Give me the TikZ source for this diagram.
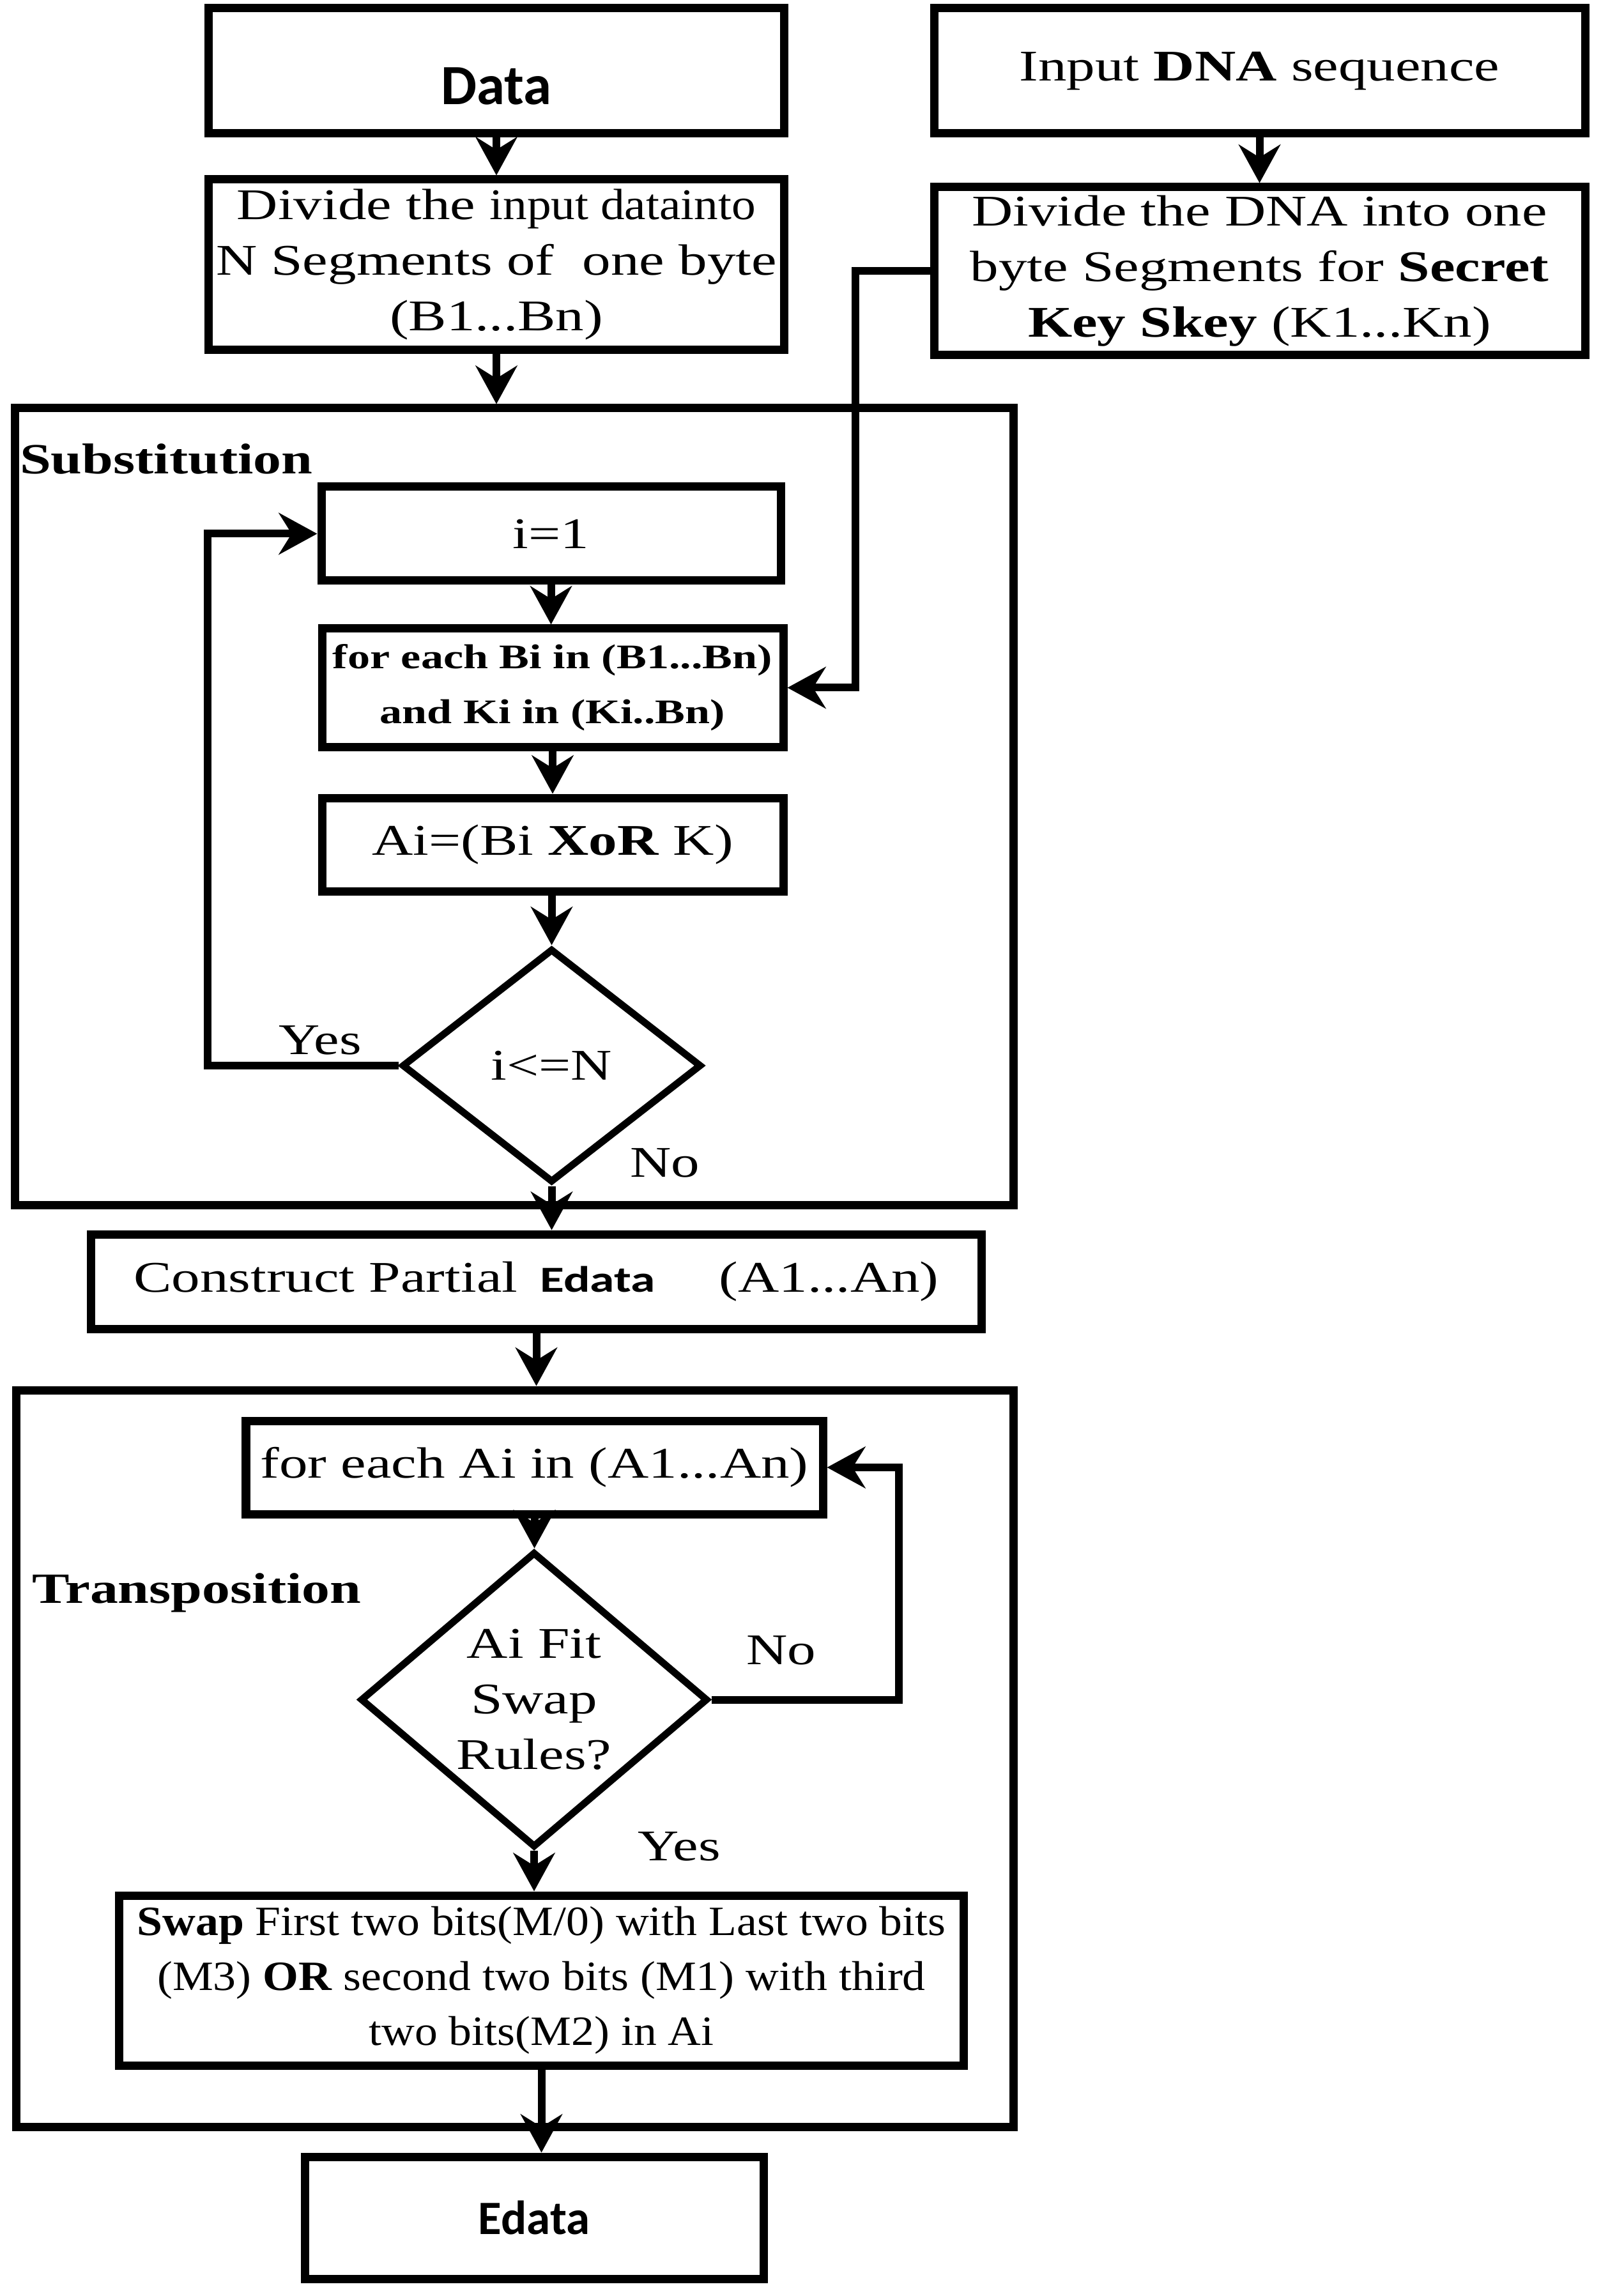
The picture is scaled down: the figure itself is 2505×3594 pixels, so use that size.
\documentclass[tikz,border=0pt]{standalone}
\usepackage{fontspec}
\usepackage{graphicx}
\setmainfont{Liberation Serif}[FakeStretch=1.3]
\newfontfamily\narrowserif{Liberation Serif}[FakeStretch=1.1]
\newfontfamily\calib{Carlito}
\usetikzlibrary{shapes.geometric,arrows.meta}
\newcommand\fsn{\fontsize{13.7pt}{17.4pt}\selectfont}
\tikzset{
  box/.style={draw, rectangle, line width=2.6pt, inner sep=0pt, align=center, font=\fsn},
  dec/.style={draw, diamond, line width=2.2pt, inner sep=0pt, align=center, font=\fsn},
  frm/.style={draw, rectangle, line width=2.6pt, inner sep=0pt},
  arr/.style={line width=2.4pt, -{Stealth[length=12pt,width=13pt,inset=4pt]}},
  lbl/.style={inner sep=0pt, font=\fsn},
  seclbl/.style={inner sep=0pt, anchor=west, font=\bfseries\fontsize{13.5pt}{16pt}\selectfont}
}
\begin{document}
\begin{tikzpicture}[x=0.2pt,y=-0.2pt]
\useasboundingbox (0,0) rectangle (2505,3594);
\fill[white] (0,0) rectangle (2505,3594);

% frames
\node[frm, minimum width=312.4pt, minimum height=249.4pt] (subst) at (805,1262.5) {};
\node[frm, minimum width=312pt, minimum height=230.6pt] (trans) at (806,2752.5) {};
\node[seclbl] (lsub) at (30,719) {Substitution};
\node[seclbl] (ltrans) at (49,2493) {Transposition};

% top boxes
\node[box, minimum width=180pt, minimum height=39.2pt, text height=21pt, text depth=0pt,
      font=\calib\bfseries\fontsize{17.8pt}{20pt}\selectfont] (data) at (777,111) {Data};
\node[box, minimum width=203.8pt, minimum height=39.2pt] (dna) at (1971.5,111) {Input \textbf{DNA} sequence};
\node[box, minimum width=180pt, minimum height=53.4pt] (div) at (777,414.5)
  {Divide the {\narrowserif input datainto}\\N Segments of\ \ one byte\\(B1...Bn)};
\node[box, minimum width=203.8pt, minimum height=52.6pt] (dna2) at (1971.5,424.5)
  {Divide the DNA into one\\byte Segments for \textbf{Secret}\\\textbf{Key Skey} (K1...Kn)};

% substitution
\node[box, minimum width=143.8pt, minimum height=29.4pt] (i1) at (862.5,835.5) {i=1};
\node[box, minimum width=144.4pt, minimum height=37pt,
      font=\bfseries\fontsize{10.8pt}{17.2pt}\selectfont] (forBi) at (865,1076.5)
  {for each Bi in (B1...Bn)\\and Ki in (Ki..Bn)};
\node[box, minimum width=144.4pt, minimum height=29.2pt] (ai) at (865,1322) {Ai=(Bi \textbf{XoR} K)};
\node[dec, minimum width=93.8pt, minimum height=73.2pt] (d1) at (863.5,1668) {i<=N};
\node[lbl] (yes1) at (501,1628) {Yes};
\node[lbl] (no1) at (1041,1820) {No};

% construct
\node[box, minimum width=278.6pt, minimum height=29.6pt] (cons) at (839.5,2006)
  {Construct Partial\hspace*{7pt}{\calib\bfseries\fontsize{11.5pt}{13pt}\selectfont\scalebox{1.35}[1]{Edata}}\hspace*{20pt}(A1...An)};

% transposition
\node[box, minimum width=180.6pt, minimum height=29.2pt] (forAi) at (836.5,2297) {for each Ai in (A1...An)};
\node[dec, minimum width=108.8pt, minimum height=85pt] (d2) at (836,2660.5) {Ai Fit\\Swap\\Rules?};
\node[lbl] (no2) at (1223,2583) {No};
\node[lbl] (yes2) at (1063,2890) {Yes};
\node[box, minimum width=264.2pt, minimum height=53.2pt,
      font=\narrowserif\fontsize{13.05pt}{17.2pt}\selectfont] (swap) at (847.5,3100)
  {\textbf{Swap} First two bits(M/0) with Last two bits\\(M3) \textbf{OR} second two bits (M1) with third\\two bits(M2) in Ai};
\node[box, minimum width=143.6pt, minimum height=38.2pt,
      font=\calib\bfseries\fontsize{15pt}{18pt}\selectfont] (edata) at (836,3471.5) {Edata};

% connectors
\draw[arr] (data.south) -- (div.north);
\draw[arr] (dna.south) -- (dna.south |- dna2.north);
\draw[arr] (div.south) -- (div.south |- subst.north);
\coordinate (k1) at (1339,424.5);
\draw[arr] (dna2.west) -- (k1) |- (forBi.east);
\draw[arr] (i1.south) -- (i1.south |- forBi.north);
\draw[arr] (forBi.south) -- (forBi.south |- ai.north);
\draw[arr] (ai.south -| d1.north) -- (d1.north);
\coordinate (y1) at (325,1668);
\draw[arr] (d1.west) -- (y1) |- (i1.west);
\draw[arr] (d1.south) -- (d1.south |- cons.north);
\draw[arr] (cons.south) -- (cons.south |- trans.north);
\draw[arr] (forAi.south) -- (forAi.south |- d2.north);
\coordinate (n1) at (1407,2660.5);
\draw[arr] (d2.east) -- (n1) |- (forAi.east);
\draw[arr] (d2.south) -- (d2.south |- swap.north);
\draw[arr] (swap.south) -- (swap.south |- edata.north);
\end{tikzpicture}
\end{document}
